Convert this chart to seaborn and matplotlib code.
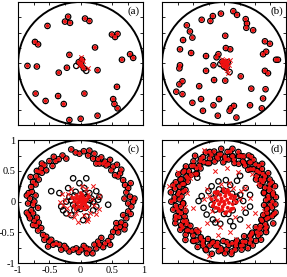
import numpy as np
import matplotlib
matplotlib.use("Agg")
import matplotlib.pyplot as plt
from matplotlib.patches import Circle
from matplotlib.ticker import MultipleLocator
import seaborn as sns

sns.set_theme(style="white")
plt.rcParams['font.family'] = ['Liberation Serif', 'DejaVu Serif']

# ---------------- data ----------------
tick_vals = [-1, -0.5, 0, 0.5, 1]
tick_labels = ["-1", "-0.5", "0", "0.5", "1"]
panel_labels = ["(a)", "(b)", "(c)", "(d)"]

# panel (a)
a_fill_x = [-0.20, -0.25, -0.17, 0.07, 0.14, -0.53, 0.50, 0.55, 0.59, -0.73, -0.68, 0.23, -0.18, 0.79, 0.84,
            0.66, -0.85, -0.70, -0.22, -0.35, 0.27, 0.58, -0.72, 0.06, -0.36, -0.56, 0.52, 0.54, -0.27, 0.59,
            0.27, -0.18, 0.00, 0.02, -0.03, 0.01, 0.05]
a_fill_y = [0.76, 0.68, 0.66, 0.73, 0.69, 0.61, 0.47, 0.43, 0.48, 0.35, 0.31, 0.26, 0.14, 0.15, 0.09,
            0.06, -0.04, -0.05, -0.07, -0.15, -0.11, -0.38, -0.49, -0.49, -0.53, -0.61, -0.58, -0.66, -0.66, -0.73,
            -0.85, -0.92, -0.90, 0.06, 0.02, -0.02, -0.08]
a_hollow_x = [-0.07, 0.09]
a_hollow_y = [-0.04, -0.12]
a_core_x = [0.00, 0.03]
a_core_y = [0.00, -0.05]
a_cross_x = [0.00, 0.12, 0.03, -0.02]
a_cross_y = [0.10, -0.08, 0.04, -0.03]

# panel (b)
b_fill_x = [0.15, 0.21, -0.05, -0.18, -0.22, -0.36, 0.35, 0.37, 0.36, 0.47, -0.60, -0.55, 0.02, -0.66, -0.51,
            0.66, 0.74, 0.03, 0.10, 0.68, 0.63, -0.71, -0.53, -0.29, -0.09, -0.12, 0.87, 0.84, -0.17, -0.71,
            -0.72, -0.29, 0.66, 0.71, 0.27, -0.16, 0.02, -0.67, -0.72, -0.40, 0.44, 0.67, -0.77, -0.67, 0.63,
            -0.37, -0.08, -0.51, -0.17, 0.16, 0.11, 0.09, 0.42, 0.61, -0.34, -0.10, 0.20,
            -0.03, 0.02, 0.00, 0.06, 0.04]
b_fill_y = [0.85, 0.79, 0.81, 0.77, 0.69, 0.71, 0.72, 0.65, 0.58, 0.54, 0.62, 0.52, 0.45, 0.38, 0.42,
            0.36, 0.32, 0.25, 0.23, 0.19, 0.15, 0.23, 0.17, 0.12, 0.15, 0.10, 0.06, 0.06, -0.03, -0.03,
            -0.08, -0.12, -0.12, -0.16, -0.21, -0.27, -0.28, -0.29, -0.34, -0.37, -0.41, -0.42, -0.46, -0.50, -0.57,
            -0.58, -0.58, -0.64, -0.68, -0.69, -0.73, -0.77, -0.68, -0.73, -0.77, -0.85, -0.88,
            0.03, 0.00, -0.05, 0.02, -0.07]
b_hollow_x = [0.09, -0.06]
b_hollow_y = [-0.14, -0.01]
b_core_x = [0.01, -0.02, 0.05]
b_core_y = [0.04, -0.03, -0.02]
b_cross_x = [0.00, 0.05, -0.05, 0.08, 0.03, 0.06, -0.03, 0.10, 0.05]
b_cross_y = [0.02, 0.05, 0.00, -0.02, -0.08, -0.15, 0.08, 0.06, -0.10]

# panel (c)
c_ring_x = [-0.15, -0.02, -0.29, -0.43, -0.23, -0.35, -0.50, 0.14, 0.12, 0.20, 0.28, 0.33, 0.39, 0.44, 0.30,
            -0.58, -0.63, -0.55, -0.66, -0.71, -0.67, -0.76, -0.72, -0.79, -0.78, -0.83, -0.81, -0.84, -0.76, -0.79,
            -0.83, -0.76, -0.81, -0.74, -0.76, -0.71, -0.67, -0.63, -0.60, -0.55, -0.50, -0.52, -0.44, -0.39, -0.34,
            -0.31, -0.23, -0.18, -0.12, -0.07, 0.01, 0.09, 0.14, 0.19, 0.25, 0.30, 0.28, 0.33, 0.39, 0.44,
            0.49, 0.52, 0.57, 0.63, 0.57, 0.65, 0.71, 0.73, 0.68, 0.76, 0.81, 0.76, 0.84, 0.79, 0.73,
            0.76, 0.71, 0.68, 0.60, 0.55, 0.63, 0.49, 0.52, 0.41, 0.47,
            -0.08, 0.05, -0.40, 0.22, 0.36, -0.62, -0.70, -0.86, -0.72, -0.86, -0.70, -0.68, -0.58, -0.47, -0.26,
            -0.03, 0.05, 0.22, 0.36, 0.47, 0.60, 0.70, 0.80, 0.86, 0.70, 0.80, 0.65, 0.58, 0.25, -0.45,
            -0.62, -0.80, -0.74, -0.68, 0.10]
c_ring_y = [0.85, 0.78, 0.75, 0.73, 0.70, 0.69, 0.66, 0.83, 0.75, 0.70, 0.69, 0.72, 0.65, 0.61, 0.62,
            0.59, 0.54, 0.51, 0.49, 0.41, 0.36, 0.32, 0.28, 0.24, 0.16, 0.14, 0.05, -0.03, -0.05, -0.14,
            -0.22, -0.19, -0.27, -0.31, -0.38, -0.39, -0.34, -0.43, -0.54, -0.57, -0.65, -0.73, -0.70, -0.68, -0.70,
            -0.78, -0.76, -0.81, -0.78, -0.76, -0.78, -0.76, -0.78, -0.84, -0.76, -0.70, -0.65, -0.59, -0.68, -0.64,
            -0.57, -0.49, -0.43, -0.41, -0.35, -0.34, -0.38, -0.27, -0.22, -0.16, -0.08, -0.03, 0.00, 0.08, 0.15,
            0.22, 0.27, 0.35, 0.41, 0.43, 0.46, 0.51, 0.57, 0.59, 0.68,
            0.80, 0.82, 0.66, 0.78, 0.62, 0.47, 0.50, 0.10, 0.10, -0.18, -0.26, -0.47, -0.62, -0.62, -0.72,
            -0.82, -0.72, -0.70, -0.74, -0.70, -0.50, -0.45, -0.20, 0.05, 0.05, 0.30, 0.52, 0.60, 0.62, 0.58,
            0.62, 0.40, 0.00, -0.10, -0.84]
c_hollow_x = [-0.12, 0.09, -0.02, -0.20, -0.47, -0.34, 0.25, 0.30, 0.28, -0.18, -0.31, -0.28, -0.23, -0.15, 0.04,
              0.09, 0.20, 0.25, 0.44, 0.20, -0.23, -0.08, 0.06, 0.14, 0.17, -0.10,
              -0.10, 0.10, 0.12, -0.12, 0.00, 0.05, -0.05, 0.08, -0.15, 0.15]
c_hollow_y = [0.38, 0.38, 0.30, 0.22, 0.17, 0.14, 0.17, 0.08, 0.03, 0.08, -0.08, -0.14, -0.19, -0.22, -0.30,
              -0.24, -0.14, -0.08, -0.05, 0.00, 0.00, 0.16, 0.22, 0.14, 0.05, -0.14,
              0.10, 0.08, -0.05, -0.05, -0.12, 0.12, -0.10, -0.10, 0.02, 0.02]
c_core_x = [0.00, 0.04, -0.03, 0.02, -0.05, 0.07, -0.01, 0.05, -0.07, 0.08, -0.04, 0.01, 0.10,
            -0.10, 0.03, -0.06, 0.11, -0.11, 0.06, -0.02, 0.02, -0.08, 0.13, -0.13, 0.00, 0.03]
c_core_y = [0.00, 0.02, 0.04, -0.05, -0.02, -0.01, 0.08, 0.06, 0.05, -0.06, -0.08, -0.10, 0.03,
            0.00, 0.11, 0.10, -0.09, -0.07, -0.12, 0.02, 0.05, -0.12, 0.08, 0.06, 0.14, -0.02]
c_cross_x = [-0.30, -0.25, -0.22, 0.25, 0.10, -0.05, 0.30, -0.15, 0.20, -0.18, 0.15, -0.12, 0.12, 0.05,
             -0.28, 0.22, 0.08, -0.08, 0.02, -0.20, 0.18, -0.10, 0.00, 0.05, -0.05, 0.30, -0.33, 0.12]
c_cross_y = [0.12, 0.02, -0.10, -0.20, -0.31, -0.33, 0.10, 0.20, 0.25, -0.20, -0.18, 0.08, 0.12, -0.22,
             -0.05, -0.05, 0.20, -0.18, 0.25, 0.12, 0.05, -0.25, -0.05, 0.05, 0.00, -0.12, 0.00, -0.28]

# panel (d): ring given as angle (deg) and radius
d_ring_ang = [0, 2, 5, 7, 10, 12, 14, 17, 19, 21, 24, 26, 29, 31, 33, 36, 38, 41, 43, 45, 48, 50, 53, 55, 57, 60, 62, 65, 67, 69,
              72, 74, 77, 79, 81, 84, 86, 89, 91, 93, 96, 98, 101, 103, 105, 108, 110, 113, 115, 117, 120, 122, 125, 127, 129, 132, 134, 137, 139, 141,
              144, 146, 149, 151, 153, 156, 158, 161, 163, 165, 168, 170, 173, 175, 177, 180, 182, 185, 187, 189, 192, 194, 197, 199, 201, 204, 206, 209, 211, 213,
              216, 218, 221, 223, 225, 228, 230, 233, 235, 237, 240, 242, 245, 247, 249, 252, 254, 257, 259, 261, 264, 266, 269, 271, 273, 276, 278, 281, 283, 285,
              288, 290, 293, 295, 297, 300, 302, 305, 307, 309, 312, 314, 317, 319, 321, 324, 326, 329, 331, 333, 336, 338, 341, 343, 345, 348, 350, 353, 355, 357,
              4, 8, 13, 17, 22, 27, 32, 35, 40, 46, 51, 56, 59, 63, 70, 75, 80, 83, 88, 94, 99, 106, 111, 118, 124, 130, 135, 142, 147, 152,
              157, 162, 166, 171, 178, 183, 188, 195, 200, 207, 212, 219, 226, 232, 238, 243, 250, 255, 262, 267, 274, 279, 286, 291, 298,
              303, 310, 315, 322, 327, 334, 340, 346, 351, 356]
d_ring_r = [0.78, 0.68, 0.84, 0.72, 0.80, 0.66, 0.75, 0.86, 0.70, 0.79, 0.64, 0.82, 0.74, 0.69, 0.85, 0.77, 0.67, 0.81, 0.73, 0.87, 0.71, 0.79, 0.65, 0.83, 0.76, 0.68, 0.85, 0.72, 0.80, 0.66,
            0.78, 0.84, 0.70, 0.75, 0.87, 0.69, 0.81, 0.73, 0.64, 0.86, 0.77, 0.71, 0.83, 0.67, 0.79, 0.74, 0.85, 0.68, 0.80, 0.72, 0.76, 0.88, 0.66, 0.82, 0.70, 0.78, 0.63, 0.84, 0.75, 0.69,
            0.81, 0.73, 0.86, 0.67, 0.79, 0.71, 0.84, 0.76, 0.65, 0.82, 0.74, 0.87, 0.69, 0.80, 0.72, 0.85, 0.66, 0.78, 0.70, 0.83, 0.75, 0.64, 0.81, 0.77, 0.68, 0.86, 0.73, 0.79, 0.70, 0.84,
            0.67, 0.76, 0.82, 0.71, 0.88, 0.74, 0.65, 0.80, 0.77, 0.69, 0.85, 0.72, 0.79, 0.66, 0.83, 0.75, 0.70, 0.87, 0.73, 0.68, 0.81, 0.76, 0.64, 0.84, 0.78, 0.71, 0.86, 0.69, 0.80, 0.74,
            0.67, 0.83, 0.77, 0.72, 0.85, 0.65, 0.79, 0.75, 0.70, 0.82, 0.68, 0.86, 0.73, 0.78, 0.66, 0.84, 0.71, 0.80, 0.76, 0.69, 0.87, 0.74, 0.67, 0.81, 0.72, 0.85, 0.70, 0.78, 0.65, 0.83,
            0.72, 0.80, 0.66, 0.76, 0.83, 0.70, 0.78, 0.63, 0.74, 0.81, 0.68, 0.77, 0.85, 0.71, 0.79, 0.65, 0.75, 0.82, 0.69, 0.77, 0.73, 0.84, 0.67, 0.79, 0.71, 0.76, 0.64, 0.81, 0.70, 0.78,
            0.73, 0.86, 0.68, 0.75, 0.80, 0.66, 0.77, 0.72, 0.83, 0.69, 0.79, 0.74, 0.65, 0.81, 0.71, 0.76, 0.84, 0.68, 0.73, 0.79, 0.66, 0.82, 0.70, 0.77, 0.74,
            0.85, 0.69, 0.78, 0.72, 0.80, 0.67, 0.76, 0.83, 0.71, 0.75]
d_hollow_x = [-0.43, 0.26, 0.21, 0.03, -0.09, 0.10, -0.20, 0.35, 0.42, -0.36, -0.41, -0.33, -0.28, -0.18, -0.06, 0.15,
              0.26, 0.35, 0.42, -0.14, 0.10, -0.25, 0.26, 0.31,
              -0.18, 0.18, 0.00, 0.00, 0.13, -0.13, 0.14, -0.14, 0.20, -0.20, 0.07, -0.08]
d_hollow_y = [0.39, 0.42, 0.34, 0.35, 0.33, 0.27, 0.25, 0.22, 0.11, 0.09, 0.01, -0.10, -0.21, -0.29, -0.36, -0.40,
              -0.29, -0.18, -0.08, -0.34, -0.32, 0.17, 0.11, 0.01,
              0.05, 0.00, 0.18, -0.20, 0.13, 0.13, -0.14, -0.13, 0.08, -0.05, -0.20, 0.20]
d_core_x = [0.00, 0.05, -0.04, 0.08, -0.08, 0.02, -0.02, 0.11, -0.11, 0.06, -0.06, 0.14, -0.14, 0.03, -0.03, 0.09, -0.09,
            0.16, -0.16, 0.00, 0.12, -0.12, 0.04, -0.05, 0.07, -0.07, 0.18, -0.18, 0.10, -0.10, 0.01, 0.13, -0.13,
            0.15, -0.01, 0.06, -0.15, 0.20, -0.20, 0.02]
d_core_y = [0.00, 0.03, 0.05, -0.02, -0.04, 0.09, -0.08, 0.06, 0.02, -0.10, 0.11, -0.04, 0.07, 0.14, -0.13, 0.12, -0.11,
            0.03, -0.02, 0.17, -0.12, 0.13, -0.17, 0.00, 0.16, -0.15, 0.08, -0.07, -0.15, 0.16, -0.04, 0.10, -0.10,
            -0.11, 0.20, 0.19, 0.15, -0.01, 0.04, -0.19]
d_cross_x = [-0.55, -0.89, -0.60, -0.63, -0.71, 0.34, 0.42, 0.50, -0.28, -0.06, -0.25, 0.20, -0.33, -0.48, 0.45,
             0.65, -0.50, 0.55, -0.40, 0.38, 0.05, -0.15, 0.22, -0.62, 0.58, 0.78, -0.75, 0.30, -0.10, 0.10,
             0.25, -0.25, 0.15, -0.20, 0.18, -0.05, 0.30, -0.32, 0.08, -0.12, 0.28, -0.28]
d_cross_y = [0.38, 0.25, 0.14, -0.08, -0.18, 0.22, 0.06, -0.18, -0.34, -0.42, -0.88, -0.61, 0.84, 0.45, 0.45,
             -0.15, -0.10, 0.30, -0.45, -0.40, 0.55, 0.50, 0.48, -0.35, -0.42, 0.20, 0.48, 0.75, -0.55, -0.50,
             0.05, 0.10, 0.22, -0.15, -0.25, 0.28, -0.10, 0.05, 0.30, -0.30, 0.18, 0.20]

d_ring_x = list(np.array(d_ring_r) * np.cos(np.deg2rad(d_ring_ang)))
d_ring_y = list(np.array(d_ring_r) * np.sin(np.deg2rad(d_ring_ang)))

# ---------------- figure ----------------
fig = plt.figure(figsize=(2.87, 2.77), dpi=100)
positions = [
    [0.063, 0.549, 0.436, 0.444],
    [0.5645, 0.549, 0.432, 0.444],
    [0.063, 0.050, 0.436, 0.444],
    [0.5645, 0.050, 0.432, 0.444],
]

panels = [
    (a_fill_x, a_fill_y, a_hollow_x, a_hollow_y, a_core_x, a_core_y, a_cross_x, a_cross_y),
    (b_fill_x, b_fill_y, b_hollow_x, b_hollow_y, b_core_x, b_core_y, b_cross_x, b_cross_y),
    (c_ring_x, c_ring_y, c_hollow_x, c_hollow_y, c_core_x, c_core_y, c_cross_x, c_cross_y),
    (d_ring_x, d_ring_y, d_hollow_x, d_hollow_y, d_core_x, d_core_y, d_cross_x, d_cross_y),
]

ring_s = 15
dot_s = 8

for i, (pos, data) in enumerate(zip(positions, panels)):
    fx, fy, hx, hy, cx, cy, xx, xy = data
    ax = fig.add_axes(pos)
    ax.set_facecolor("white")
    # black rings (filled and hollow particles)
    sns.scatterplot(x=list(fx) + list(hx), y=list(fy) + list(hy), ax=ax, marker="o", s=ring_s,
                    facecolor="none", edgecolor="black", linewidth=0.9, zorder=3, legend=False)
    # red dots
    sns.scatterplot(x=list(fx) + list(cx), y=list(fy) + list(cy), ax=ax, marker="o", s=dot_s,
                    color="#ee1111", edgecolor="none", linewidth=0, zorder=4, legend=False)
    # red crosses
    sns.scatterplot(x=xx, y=xy, ax=ax, marker="x", s=10, color="#ee1111", linewidth=0.7,
                    zorder=5, legend=False)
    ax.add_patch(Circle((0, 0), 1.0, fill=False, edgecolor="black", linewidth=1.4, zorder=2))
    ax.set_xlim(-1, 1)
    ax.set_ylim(-1, 1)
    ax.set_xlabel("")
    ax.set_ylabel("")
    ax.set_xticks(tick_vals)
    ax.set_yticks(tick_vals)
    ax.xaxis.set_minor_locator(MultipleLocator(0.25))
    ax.yaxis.set_minor_locator(MultipleLocator(0.25))
    ax.tick_params(which="both", direction="in", top=True, right=True, bottom=True, left=True,
                   length=2.5, width=0.6, color="black", labelsize=7.5, pad=2, labelcolor="black")
    if i == 2:
        ax.set_xticklabels(tick_labels)
        ax.set_yticklabels(tick_labels)
    else:
        ax.set_xticklabels([])
        ax.set_yticklabels([])
    for sp in ax.spines.values():
        sp.set_visible(True)
        sp.set_color("black")
        sp.set_linewidth(0.8)
    ax.text(0.975, 0.965, panel_labels[i], transform=ax.transAxes, ha="right", va="top",
            fontsize=8, color="black")
    ax.grid(False)

fig.savefig("out.png", dpi=100)
